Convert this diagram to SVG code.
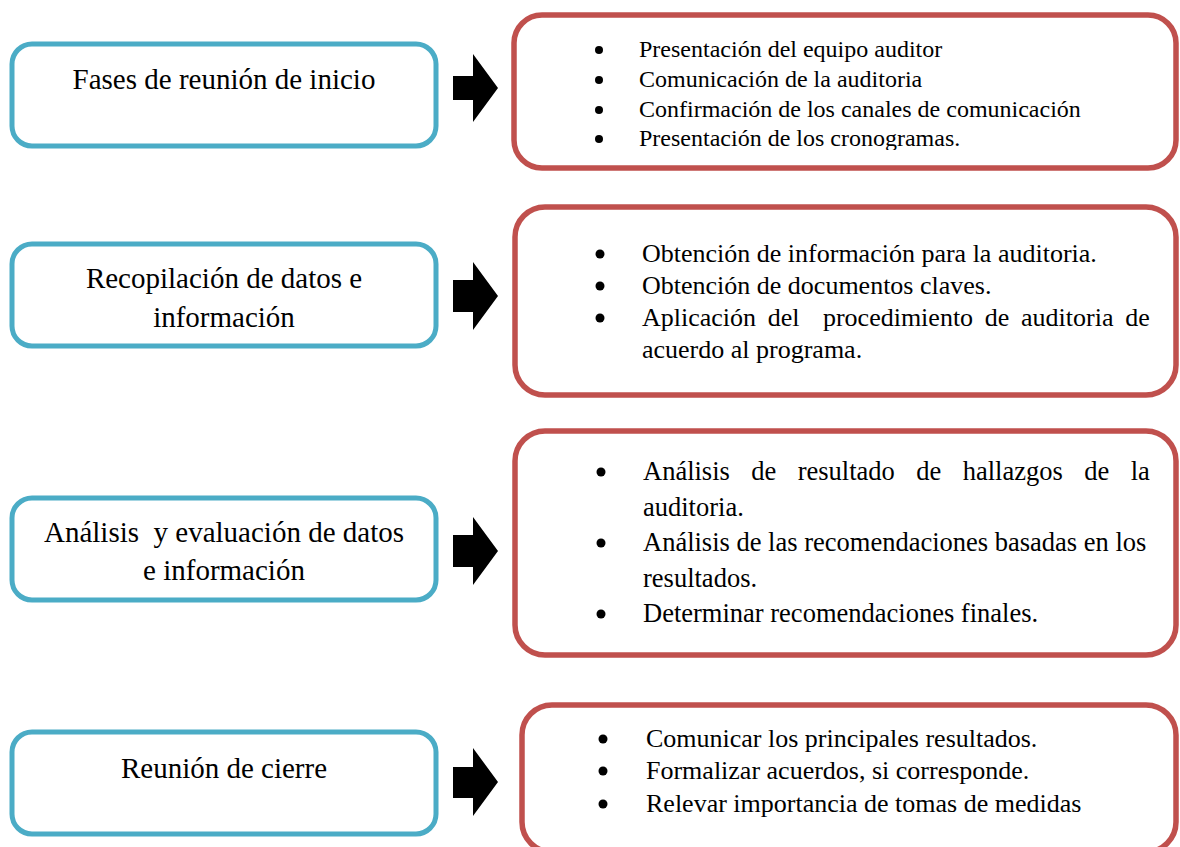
<svg xmlns="http://www.w3.org/2000/svg" width="1180" height="847" viewBox="0 0 1180 847">
<style>
.blue{fill:#fff;stroke:#4BACC6;stroke-width:5}
.red{fill:#fff;stroke:#C0504D;stroke-width:5.5}
.t{font-family:"Liberation Serif","Times New Roman",serif;fill:#000}
.bt{font-size:29px;text-anchor:middle}
.b1{font-size:24px}
.b2{font-size:26px}
.b3{font-size:26.5px}
.arrow{fill:#000}
.dot{fill:#000}
</style>
<defs>
<clipPath id="clip1"><rect x="500" y="0" width="680" height="150"/></clipPath>
</defs>
<rect width="1180" height="847" fill="#fff"/>

<g id="node-fases">
<rect class="blue" x="12" y="44" width="424" height="102" rx="20"/>
<text class="t bt" x="224" y="89">Fases de reunión de inicio</text>
</g>
<g id="node-fases-detail">
<rect class="red" x="514" y="15" width="662" height="153" rx="28"/>
<g class="t b1" clip-path="url(#clip1)">
<circle class="dot" cx="599" cy="50" r="4"/><text x="639" y="57">Presentación del equipo auditor</text>
<circle class="dot" cx="599" cy="80" r="4"/><text x="639" y="87">Comunicación de la auditoria</text>
<circle class="dot" cx="599" cy="110" r="4"/><text x="639" y="117">Confirmación de los canales de comunicación</text>
<circle class="dot" cx="599" cy="139" r="4"/><text x="639" y="146">Presentación de los cronogramas.</text>
</g>
</g>

<g id="node-recopilacion">
<rect class="blue" x="12" y="244" width="424" height="102" rx="20"/>
<text class="t bt" x="224" y="288">Recopilación de datos e</text>
<text class="t bt" x="224" y="327">información</text>
</g>
<g id="node-recopilacion-detail">
<rect class="red" x="515" y="207" width="661" height="188" rx="30"/>
<g class="t b2">
<circle class="dot" cx="600" cy="254" r="4.5"/><text x="642" y="262">Obtención de información para la auditoria.</text>
<circle class="dot" cx="600" cy="286" r="4.5"/><text x="642" y="294">Obtención de documentos claves.</text>
<circle class="dot" cx="600" cy="318" r="4.5"/><text x="642" y="326" xml:space="preserve" word-spacing="5.2">Aplicación del  procedimiento de auditoria de</text>
<text x="642" y="358">acuerdo al programa.</text>
</g>
</g>

<g id="node-analisis">
<rect class="blue" x="12" y="498" width="424" height="102" rx="20"/>
<text class="t bt" x="224" y="542" xml:space="preserve">Análisis  y evaluación de datos</text>
<text class="t bt" x="224" y="580">e información</text>
</g>
<g id="node-analisis-detail">
<rect class="red" x="515" y="431" width="661" height="224" rx="30"/>
<g class="t b3">
<circle class="dot" cx="601" cy="472" r="4.5"/><text x="643" y="480" word-spacing="14.8">Análisis de resultado de hallazgos de la</text>
<text x="643" y="515.5">auditoria.</text>
<circle class="dot" cx="601" cy="543" r="4.5"/><text x="643" y="551">Análisis de las recomendaciones basadas en los</text>
<text x="643" y="586.5">resultados.</text>
<circle class="dot" cx="601" cy="614" r="4.5"/><text x="643" y="622">Determinar recomendaciones finales.</text>
</g>
</g>

<g id="node-cierre">
<rect class="blue" x="12" y="732" width="424" height="102" rx="20"/>
<text class="t bt" x="224" y="778">Reunión de cierre</text>
</g>
<g id="node-cierre-detail">
<rect class="red" x="522" y="705" width="654" height="147" rx="30"/>
<g class="t b2">
<circle class="dot" cx="603" cy="739" r="4.5"/><text x="646" y="747">Comunicar los principales resultados.</text>
<circle class="dot" cx="603" cy="771" r="4.5"/><text x="646" y="779">Formalizar acuerdos, si corresponde.</text>
<circle class="dot" cx="603" cy="804" r="4.5"/><text x="646" y="812">Relevar importancia de tomas de medidas</text>
</g>
</g>

<g id="connectors">
<polygon class="arrow" points="453,76 473,76 473,54 498,88 473,122 473,100 453,100"/>
<polygon class="arrow" points="453,280 473,280 473,262 498,296 473,330 473,312 453,312"/>
<polygon class="arrow" points="453,535 473,535 473,517 498,551 473,585 473,567 453,567"/>
<polygon class="arrow" points="453,767 473,767 473,748 498,782 473,816 473,798 453,798"/>
</g>
</svg>
